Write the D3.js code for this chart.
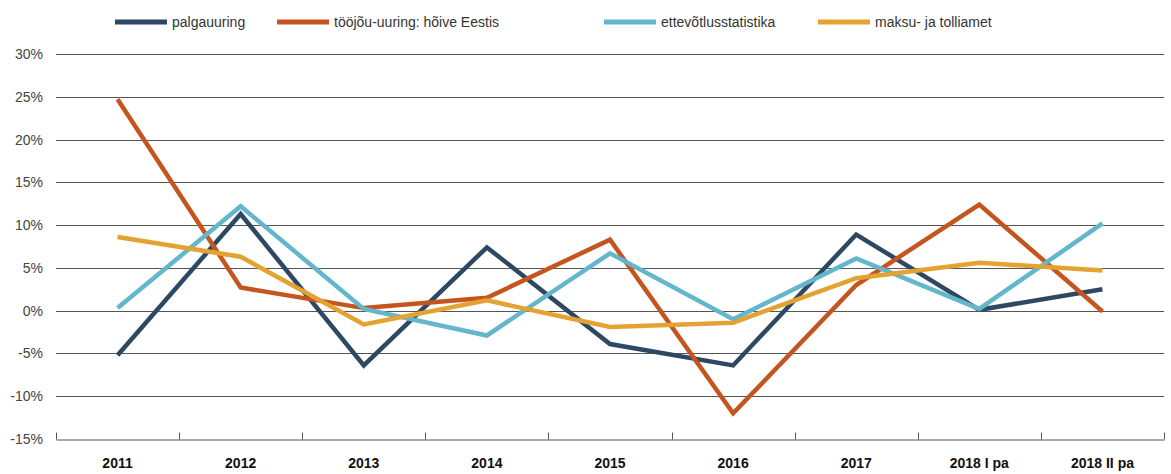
<!DOCTYPE html>
<html>
<head>
<meta charset="utf-8">
<script src="https://cdn.jsdelivr.net/npm/d3@7"></script>
<style>
  body { margin: 0; background: white; }
  text { font-family: "Liberation Sans", Arial, sans-serif; }
</style>
</head>
<body>
<div id="chart"></div>
<script>
var categories = ["2011", "2012", "2013", "2014", "2015", "2016", "2017", "2018 I pa", "2018 II pa"];
var palgauuring = [-5.2, 11.3, -6.4, 7.4, -3.9, -6.4, 8.9, 0.1, 2.5];
var toojou = [24.7, 2.7, 0.3, 1.5, 8.3, -12.0, 3.0, 12.4, -0.1];
var ettevotlus = [0.3, 12.2, 0.2, -2.9, 6.7, -1.0, 6.1, 0.2, 10.2];
var maksu = [8.6, 6.3, -1.6, 1.2, -1.9, -1.4, 3.8, 5.6, 4.7];
var yTicks = [-15, -10, -5, 0, 5, 10, 15, 20, 25, 30];

var series = [
  { name: "palgauuring", values: palgauuring, color: "#2d4862" },
  { name: "tööjõu-uuring: hõive Eestis", values: toojou, color: "#c4551f" },
  { name: "ettevõtlusstatistika", values: ettevotlus, color: "#63b6cb" },
  { name: "maksu- ja tolliamet", values: maksu, color: "#e3a232" }
];

var width = 1171, height = 474;
var svg = d3.select("#chart").append("svg")
  .attr("width", width)
  .attr("height", height);

var x = d3.scaleBand().domain(categories).range([56, 1164]);
var y = d3.scaleLinear().domain([-15, 30]).range([439, 54]);

// grid lines
svg.append("g").selectAll("line")
  .data(yTicks.filter(function(d) { return d > -15; }))
  .enter().append("line")
  .attr("x1", 56).attr("x2", 1164)
  .attr("y1", function(d) { return Math.round(y(d)) + 0.5; })
  .attr("y2", function(d) { return Math.round(y(d)) + 0.5; })
  .attr("stroke", "#555")
  .attr("stroke-width", 1);

// y labels
svg.append("g").selectAll("text")
  .data(yTicks)
  .enter().append("text")
  .attr("x", 43)
  .attr("y", function(d) { return y(d) + 5; })
  .attr("text-anchor", "end")
  .style("font-size", "14px")
  .style("fill", "#444")
  .text(function(d) { return d + "%"; });

// bottom axis
var xAxis = svg.append("g")
  .attr("transform", "translate(0," + (Math.round(y(-15)) + 0.5) + ")")
  .call(d3.axisBottom(x).tickSize(0).tickPadding(19));
xAxis.select(".domain").attr("stroke", "#555");
xAxis.selectAll("text")
  .style("font-family", "'Liberation Sans', Arial, sans-serif")
  .style("font-size", "14px")
  .style("font-weight", "bold")
  .style("fill", "#111");

var bounds = categories.map(function(c) { return x(c); }).concat([x.range()[1]]);
xAxis.selectAll(".sep")
  .data(bounds)
  .enter().append("line")
  .attr("class", "sep")
  .attr("x1", function(d) { return Math.round(d) + 0.5; })
  .attr("x2", function(d) { return Math.round(d) + 0.5; })
  .attr("y1", 0).attr("y2", -7)
  .attr("stroke", "#555");

// lines
var line = d3.line()
  .x(function(d, i) { return x(categories[i]) + x.bandwidth() / 2; })
  .y(function(d) { return y(d); });

svg.append("g").selectAll("path")
  .data(series)
  .enter().append("path")
  .attr("d", function(d) { return line(d.values); })
  .attr("fill", "none")
  .attr("stroke", function(d) { return d.color; })
  .attr("stroke-width", 4.5)
  .attr("stroke-linejoin", "miter");

// legend
var legendX = [115, 277, 604, 818];
var legend = svg.append("g").selectAll("g")
  .data(series)
  .enter().append("g")
  .attr("transform", function(d, i) { return "translate(" + legendX[i] + ",22)"; });
legend.append("line")
  .attr("x1", 0).attr("x2", 52)
  .attr("stroke", function(d) { return d.color; })
  .attr("stroke-width", 5);
legend.append("text")
  .attr("x", 57)
  .attr("y", 5)
  .style("font-size", "14px")
  .style("fill", "#333")
  .text(function(d) { return d.name; });
</script>
</body>
</html>
